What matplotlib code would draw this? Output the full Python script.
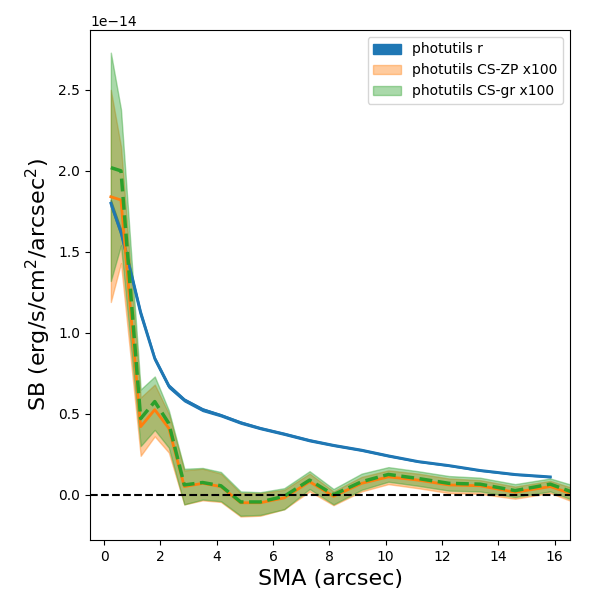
import matplotlib
matplotlib.use("Agg")
import matplotlib.pyplot as plt
import numpy as np

# SMA positions (arcsec)
sma = np.array([0.24, 0.6, 1.3, 1.8, 2.3, 2.85, 3.5, 4.15, 4.85, 5.55, 6.4,
                7.3, 8.15, 9.15, 10.1, 11.15, 12.25, 13.35, 14.6, 15.85, 17.2])

# photutils r profile (units of 1e-14), ends at 15.85 arcsec
sb_r = np.array([1.80, 1.62, 1.12, 0.84, 0.67, 0.585, 0.525, 0.49, 0.445, 0.41,
                 0.375, 0.335, 0.305, 0.275, 0.24, 0.205, 0.18, 0.15, 0.125, 0.11])
sb_r_err = np.array([0.02, 0.02, 0.015, 0.01, 0.01, 0.008, 0.008, 0.006, 0.006, 0.005,
                     0.005, 0.005, 0.004, 0.004, 0.004, 0.003, 0.003, 0.003, 0.003, 0.003])

# photutils CS-ZP x100
sb_zp = np.array([1.84, 1.82, 0.42, 0.525, 0.41, 0.05, 0.07, 0.05, -0.05, -0.05, -0.02,
                  0.08, -0.01, 0.07, 0.11, 0.09, 0.06, 0.055, 0.015, 0.05, -0.03])
sb_zp_hi = np.array([2.50, 2.15, 0.60, 0.68, 0.50, 0.15, 0.16, 0.13, 0.01, 0.01, 0.03,
                     0.13, 0.02, 0.11, 0.15, 0.13, 0.10, 0.09, 0.05, 0.085, 0.01])
sb_zp_lo = np.array([1.19, 1.43, 0.24, 0.36, 0.26, -0.06, -0.035, -0.045, -0.135, -0.13, -0.09,
                     0.02, -0.065, 0.02, 0.065, 0.04, 0.01, 0.005, -0.025, 0.01, -0.08])

# photutils CS-gr x100
sb_gr = np.array([2.02, 2.00, 0.47, 0.575, 0.44, 0.06, 0.075, 0.055, -0.045, -0.045, -0.01,
                  0.09, 0.0, 0.08, 0.125, 0.10, 0.07, 0.065, 0.025, 0.065, -0.02])
sb_gr_hi = np.array([2.73, 2.38, 0.65, 0.73, 0.52, 0.16, 0.165, 0.14, 0.02, 0.015, 0.04,
                     0.145, 0.035, 0.13, 0.17, 0.145, 0.115, 0.105, 0.065, 0.10, 0.03])
sb_gr_lo = np.array([1.32, 1.54, 0.30, 0.40, 0.29, -0.06, -0.03, -0.04, -0.13, -0.125, -0.09,
                     0.035, -0.06, 0.03, 0.08, 0.055, 0.025, 0.02, -0.015, 0.02, -0.07])

scale = 1e-14
nr = len(sb_r)

fig = plt.figure(figsize=(6, 6), dpi=100)
ax = fig.add_axes([0.15, 0.10, 0.80, 0.85])

ax.fill_between(sma[:nr], (sb_r - sb_r_err) * scale, (sb_r + sb_r_err) * scale,
                color="C0", label="photutils r")
ax.fill_between(sma, sb_zp_lo * scale, sb_zp_hi * scale, color="C1", alpha=0.4,
                label="photutils CS-ZP x100")
ax.fill_between(sma, sb_gr_lo * scale, sb_gr_hi * scale, color="C2", alpha=0.4,
                label="photutils CS-gr x100")

ax.plot(sma[:nr], sb_r * scale, color="C0", lw=2)
ax.plot(sma, sb_zp * scale, color="C1", lw=2)
ax.plot(sma, sb_gr * scale, color="C2", lw=2.5, ls="--")

ax.axhline(0, color="black", ls="--", lw=1.5)

ax.set_xlim(-0.5, 16.55)
ax.set_ylim(-0.28e-14, 2.87e-14)
ax.set_xlabel("SMA (arcsec)", fontsize=16)
ax.set_ylabel("SB (erg/s/cm$^2$/arcsec$^2$)", fontsize=16)
ax.legend(loc="upper right")

fig.savefig("out.png", dpi=100)
